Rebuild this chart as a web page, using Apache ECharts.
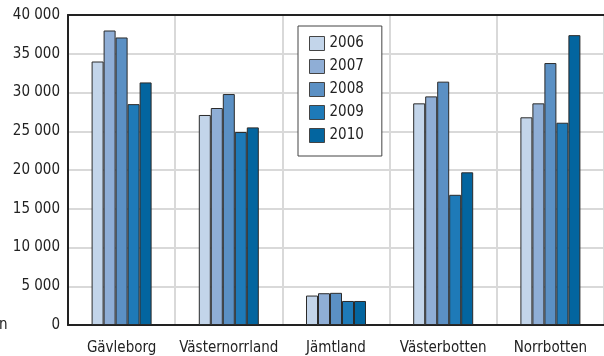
<!DOCTYPE html>
<html>
<head>
<meta charset="utf-8">
<script src="https://cdn.jsdelivr.net/npm/echarts@6/dist/echarts.min.js"></script>
<style>
  html, body { margin: 0; padding: 0; background: #fff; }
  #chart { width: 604px; height: 356px; }
</style>
</head>
<body>
<div id="chart"></div>
<script>
var regions = ["Gävleborg", "Västernorrland", "Jämtland", "Västerbotten", "Norrbotten"];
var years = ["2006", "2007", "2008", "2009", "2010"];
var colors = ["#c3d5ea", "#8faed6", "#5b90c4", "#1e7ab8", "#03659f"];

var v2006 = [34000, 27100, 3800, 28600, 26800];
var v2007 = [38000, 28000, 4100, 29500, 28600];
var v2008 = [37100, 29800, 4150, 31400, 33800];
var v2009 = [28500, 24900, 3100, 16800, 26100];
var v2010 = [31300, 25500, 3100, 19700, 37400];

var yTicks = [0, 5000, 10000, 15000, 20000, 25000, 30000, 35000, 40000];

var values = [v2006, v2007, v2008, v2009, v2010];
var font = "DejaVu Sans Condensed";

var chart = echarts.init(document.getElementById("chart"));

var series = years.map(function (y, i) {
  return {
    name: y,
    type: "bar",
    data: values[i],
    barWidth: 12,
    barGap: "0%",
    itemStyle: {
      color: colors[i],
      borderColor: "#2b2b2b",
      borderWidth: 1
    },
    animation: false
  };
});

chart.setOption({
  animation: false,
  textStyle: { fontFamily: font },
  grid: { left: 68, top: 15, right: -8, bottom: 31 },
  legend: {
    orient: "vertical",
    left: 298,
    top: 26,
    padding: [10, 18, 13, 11],
    icon: "rect",
    itemWidth: 15,
    itemHeight: 14,
    itemGap: 8,
    backgroundColor: "#fff",
    borderColor: "#444",
    borderWidth: 1,
    textStyle: { fontFamily: font, fontSize: 15, color: "#222" },
    itemStyle: { borderColor: "#444", borderWidth: 1 },
    data: years
  },
  xAxis: [
    {
      type: "category",
      data: regions,
      axisLine: { lineStyle: { color: "#222", width: 2 } },
      axisTick: { show: false, interval: 0 },
      axisLabel: { interval: 0, fontFamily: font, fontSize: 15, color: "#222", margin: 16 },
      splitLine: { show: true, interval: 0, lineStyle: { color: "#d9d9d9", width: 2 } }
    },
    {
      type: "category",
      position: "top",
      data: regions,
      axisLine: { lineStyle: { color: "#222", width: 2 } },
      axisTick: { show: false },
      axisLabel: { show: false }
    }
  ],
  yAxis: {
    type: "value",
    min: yTicks[0],
    max: yTicks[yTicks.length - 1],
    interval: 5000,
    axisLine: { show: true, lineStyle: { color: "#222", width: 2 } },
    axisTick: { show: false },
    axisLabel: {
      fontFamily: font,
      fontSize: 15,
      color: "#222",
      margin: 8,
      formatter: function (v) {
        return String(v).replace(/\B(?=(\d{3})+(?!\d))/g, " ");
      }
    },
    splitLine: { lineStyle: { color: "#d9d9d9", width: 2 } }
  },
  graphic: [
    {
      type: "text",
      left: -1,
      top: 318,
      style: { text: "n", font: "15px " + font, fill: "#222" }
    }
  ],
  series: series
});
</script>
</body>
</html>
